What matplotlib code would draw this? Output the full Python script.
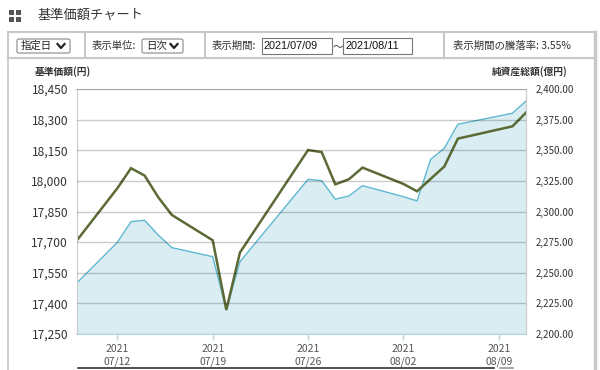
import numpy as np
import pandas as pd
import matplotlib
matplotlib.use('Agg')
import matplotlib.pyplot as plt
import matplotlib.dates as mdates
from matplotlib.patches import Rectangle, FancyBboxPatch
from matplotlib.lines import Line2D

plt.rcParams['font.family'] = ['Noto Sans CJK JP', 'DejaVu Sans']

# data
dates = pd.to_datetime([
    '2021-07-09', '2021-07-12', '2021-07-13', '2021-07-14', '2021-07-15',
    '2021-07-16', '2021-07-19', '2021-07-20', '2021-07-21', '2021-07-26',
    '2021-07-27', '2021-07-28', '2021-07-29', '2021-07-30', '2021-08-02',
    '2021-08-03', '2021-08-04', '2021-08-05', '2021-08-06', '2021-08-10',
    '2021-08-11'])
nav = [17706, 17964, 18062, 18026, 17920, 17833, 17709, 17368, 17649, 18151,
       18141, 17983, 18008, 18065, 17985, 17949, 18010, 18070, 18207, 18267,
       18334]
aum = [2241.4, 2274.8, 2291.7, 2292.8, 2280.8, 2270.5, 2263.1, 2219.6, 2259.0,
       2326.3, 2325.2, 2310.0, 2312.7, 2321.1, 2312.1, 2308.6, 2342.6, 2351.6,
       2371.2, 2380.2, 2390.2]

nav_ticks = np.arange(17250, 18451, 150)
aum_ticks = np.arange(2200, 2401, 25)
x_ticks = pd.to_datetime(['2021-07-12', '2021-07-19', '2021-07-26',
                          '2021-08-02', '2021-08-09'])

W, H = 600, 370
fig = plt.figure(figsize=(6, 3.7), dpi=100)


def fx(x):
    return x / W


def fy(y):
    return 1 - y / H


def line(x0, y0, x1, y1, color='#c8c8c8', lw=1.0):
    fig.add_artist(Line2D([fx(x0), fx(x1)], [fy(y0), fy(y1)],
                          transform=fig.transFigure, color=color, lw=lw))


def box(x0, y0, x1, y1, ec='#888888', lw=0.8, round_=False):
    if round_:
        p = FancyBboxPatch((fx(x0), fy(y1)), (x1 - x0) / W, (y1 - y0) / H,
                           boxstyle='round,pad=0,rounding_size=0.004',
                           transform=fig.transFigure, ec=ec, fc='white', lw=lw)
    else:
        p = Rectangle((fx(x0), fy(y1)), (x1 - x0) / W, (y1 - y0) / H,
                      transform=fig.transFigure, ec=ec, fc='white', lw=lw)
    fig.add_artist(p)


def text(x, y, s, size=7.5, **kw):
    fig.text(fx(x), fy(y), s, fontsize=size, va='center', **kw)


def chevron(x, y):
    fig.add_artist(Line2D([fx(x - 3.5), fx(x), fx(x + 3.5)],
                          [fy(y - 2), fy(y + 2), fy(y - 2)],
                          transform=fig.transFigure, color='#222222', lw=1.6))


# header
for dx, dy in [(0, 0), (7, 0), (0, 7), (7, 7)]:
    fig.add_artist(Rectangle((fx(9 + dx), fy(15 + dy)), 5 / W, 5 / H,
                             transform=fig.transFigure, fc='#555555', ec='none'))
text(37, 15, '基準価額チャート', size=9.5, color='#333333')

# control bar
line(8, 32, 595, 32, lw=1.5)
line(8, 58, 595, 58, lw=1.5)
for xs in [8, 85, 205, 444]:
    line(xs, 32, xs, 58, lw=1.5)
line(594.5, 32, 594.5, 370, lw=2.5)
line(8, 58, 8, 370, lw=1.2)

box(17, 39, 70, 53, round_=True)
text(21, 46, '指定日', color='#222222')
chevron(61, 46)
text(92, 46, '表示単位:', color='#333333')
box(142, 39, 183, 53, round_=True)
text(146, 46, '日次', color='#222222')
chevron(174, 46)
text(212, 46, '表示期間:', color='#333333')
box(262, 38, 332, 54, ec='#777777')
text(264, 46, '2021/07/09', color='#111111', family='Liberation Sans', size=7.8)
text(333, 46, '～', color='#333333')
box(343, 38, 412, 54, ec='#777777')
text(345, 46, '2021/08/11', color='#111111', family='Liberation Sans', size=7.8)
text(453, 46, '表示期間の騰落率: 3.55%', color='#333333')

# axis titles
text(63, 72, '基準価額(円)', size=7, color='#333333', ha='center', weight='bold')
text(530, 72, '純資産総額(億円)', size=7, color='#333333', ha='center', weight='bold')

# bottom navigator edge
line(78, 368, 494, 368, color='#333333', lw=1.2)
line(500, 368, 513, 368, color='#999999', lw=1.2)

# chart
ax = fig.add_axes([fx(76.5), fy(334), (526 - 76.5) / W, (334 - 89) / H])
ax2 = ax.twinx()
ax.set_zorder(ax2.get_zorder() + 1)
ax.patch.set_visible(False)

ax2.fill_between(dates, aum, 2200, color='#d9edf2', lw=0)
ax2.plot(dates, aum, color='#5db8d0', lw=1.0)
ax.plot(dates, nav, color='#5c6a35', lw=1.8, solid_joinstyle='miter')

ax.set_xlim(dates[0], dates[-1])
ax.set_ylim(17250, 18450)
ax2.set_ylim(2200, 2400)
ax.set_yticks(nav_ticks)
ax2.set_yticks(aum_ticks)
ax.set_yticklabels([f'{v:,}' for v in nav_ticks])
ax2.set_yticklabels([f'{v:,.2f}' for v in aum_ticks])
ax.grid(axis='y', color='black', alpha=0.2, lw=1.0)
ax.set_axisbelow(False)

ax.set_xticks(x_ticks)
ax.set_xticklabels([d.strftime('%Y\n%m/%d') for d in x_ticks],
                   linespacing=1.3)
ax.tick_params(axis='x', length=4, width=1, color='#c0d4e2', pad=3.5,
               labelsize=7.5, labelcolor='#555555')
ax.tick_params(axis='y', length=0, pad=6, labelsize=8.6, labelcolor='#333333')
ax2.tick_params(axis='y', length=0, pad=7, labelsize=7, labelcolor='#333333')
ax2.tick_params(axis='x', length=0)

for a in (ax, ax2):
    for s in ['top', 'left', 'right']:
        a.spines[s].set_color('#cccccc')
    a.spines['bottom'].set_color('#b8d4e4')
ax2.spines['left'].set_visible(False)
ax2.spines['bottom'].set_visible(False)
ax2.spines['top'].set_visible(False)

fig.savefig('out.png', dpi=100)
